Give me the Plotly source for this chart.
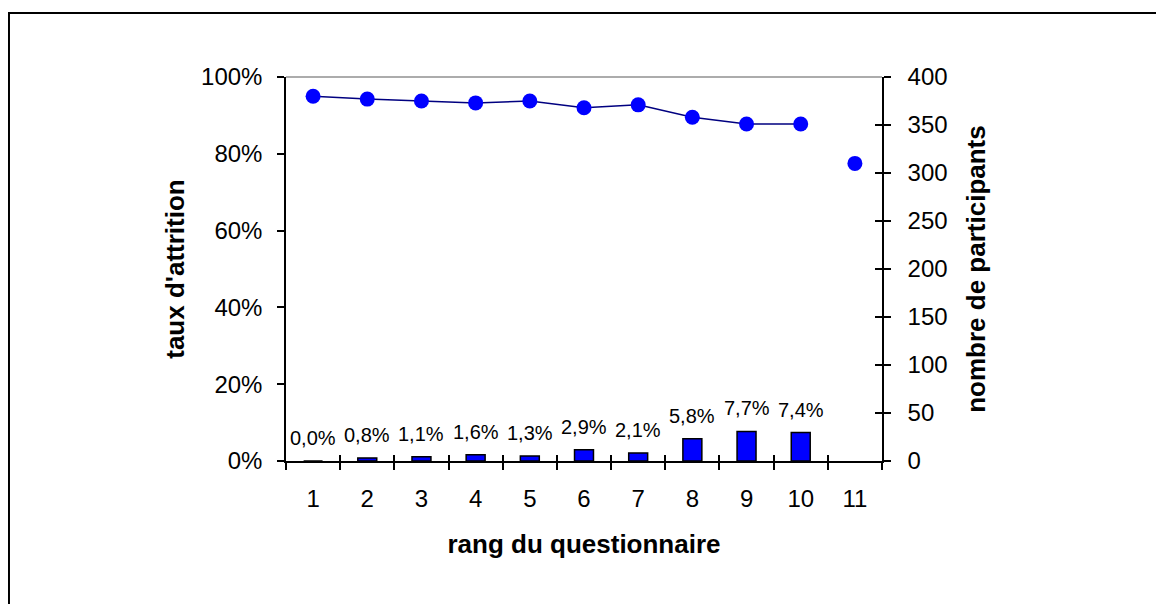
import plotly.graph_objects as go

rang = ["1", "2", "3", "4", "5", "6", "7", "8", "9", "10", "11"]
attrition = [0.000, 0.008, 0.011, 0.016, 0.013, 0.029, 0.021, 0.058, 0.077, 0.074]
participants = [380, 377, 375, 373, 375, 368, 371, 358, 351, 351, 310]

FONT = "Arial, Liberation Sans, sans-serif"

fig = go.Figure()

fig.add_trace(go.Bar(
    x=rang[:len(attrition)], y=attrition,
    marker=dict(color="#0000FF", line=dict(color="black", width=1.5)),
    xaxis="x", yaxis="y", width=0.35, showlegend=False,
))

fig.add_trace(go.Scatter(
    x=rang[:10], y=participants[:10], mode="lines",
    line=dict(color="#000080", width=1.5),
    xaxis="x2", yaxis="y2", showlegend=False,
))
fig.add_trace(go.Scatter(
    x=rang, y=participants, mode="markers",
    marker=dict(color="#0000FF", size=15),
    xaxis="x2", yaxis="y3", showlegend=False, cliponaxis=False,
))

# data labels above bars (decimal comma); category axis -> use category index
for i, v in enumerate(attrition):
    fig.add_annotation(
        x=i, y=v, xref="x", yref="y", text=f"{v * 100:.1f}%".replace(".", ","),
        showarrow=False, yanchor="middle", yshift=23,
        font=dict(size=20, color="black", family=FONT),
    )

tick_common = dict(showgrid=False, zeroline=False, tickcolor="black", tickwidth=1.5)
line_common = dict(linecolor="black", linewidth=1.5)

fig.update_layout(
    width=1164, height=604,
    margin=dict(l=278, r=290, t=69, b=151),
    paper_bgcolor="white", plot_bgcolor="white",
    font=dict(family=FONT, size=24, color="black"),
    separators=", ",
    xaxis=dict(type="category", categoryarray=rang, range=[-0.5, 10.5],
               ticks="outside", ticklen=7, tickson="boundaries", showline=True,
               ticklabelstandoff=15,
               title=dict(text="<b>rang du questionnaire</b>", font=dict(size=26), standoff=24),
               tickfont=dict(size=24), **tick_common, **line_common),
    xaxis2=dict(type="category", categoryarray=rang, range=[-0.5, 10.5], overlaying="x",
                ticks="inside", ticklen=6, tickson="boundaries", showticklabels=False,
                showline=False, anchor="y2", **tick_common),
    yaxis=dict(range=[0, 1], tickvals=[0, 0.2, 0.4, 0.6, 0.8, 1.0], tickformat=".0%",
               ticks="outside", ticklen=7, showline=True, ticklabelstandoff=10,
               title=dict(text="<b>taux d'attrition</b>", font=dict(size=26), standoff=9),
               tickfont=dict(size=24), **tick_common, **line_common),
    yaxis2=dict(range=[0, 400], dtick=50, side="right", overlaying="y", anchor="x",
                ticks="outside", ticklen=7, showline=True, ticklabelstandoff=12,
                title=dict(text="<b>nombre de participants</b>", font=dict(size=26), standoff=20),
                tickfont=dict(size=24), **tick_common, **line_common),
    yaxis3=dict(range=[0, 400], dtick=50, side="right", overlaying="y", anchor="x",
                ticks="inside", ticklen=7, showticklabels=False, showline=False,
                **tick_common),
    shapes=[
        dict(type="line", xref="paper", yref="paper", x0=0, x1=1, y0=1, y1=1,
             line=dict(color="#909090", width=1.5)),
        dict(type="rect", xref="paper", yref="paper", x0=-0.4648, x1=1.6, y0=-0.6, y1=1.1667,
             line=dict(color="black", width=2)),
    ],
)

fig.write_html("out.html")
